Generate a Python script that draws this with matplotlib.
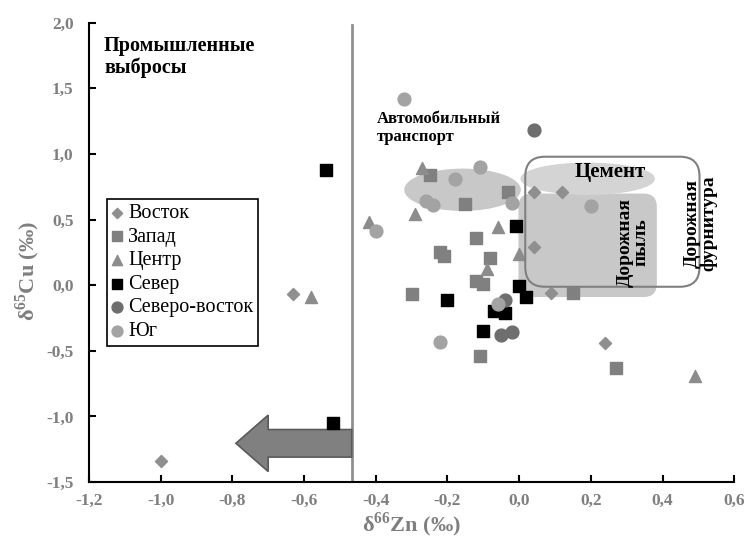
import matplotlib.pyplot as plt
from matplotlib.patches import Ellipse, FancyBboxPatch, Polygon
from matplotlib.ticker import FuncFormatter

plt.rcParams['font.family'] = ['Liberation Serif', 'DejaVu Serif']
plt.rcParams['mathtext.fontset'] = 'custom'
plt.rcParams['mathtext.bf'] = 'Liberation Serif:bold'
plt.rcParams['mathtext.rm'] = 'Liberation Serif:bold'

# данные: d66Zn, d65Cu
vostok_x = [-1.00, -0.63, 0.04, 0.12, 0.04, 0.09, 0.24]
vostok_y = [-1.34, -0.07, 0.71, 0.71, 0.29, -0.06, -0.44]

zapad_x = [-0.25, -0.03, -0.15, -0.12, -0.22, -0.21, -0.08, -0.12, -0.10, -0.30, -0.11, 0.15, 0.27]
zapad_y = [0.84, 0.71, 0.62, 0.36, 0.25, 0.22, 0.21, 0.03, 0.01, -0.07, -0.54, -0.06, -0.63]

centr_x = [-0.27, -0.29, -0.42, -0.06, -0.09, 0.00, -0.58, 0.49]
centr_y = [0.89, 0.54, 0.48, 0.44, 0.12, 0.24, -0.09, -0.69]

sever_x = [-0.54, -0.52, -0.01, 0.00, 0.02, -0.20, -0.07, -0.04, -0.10]
sever_y = [0.88, -1.05, 0.45, -0.01, -0.09, -0.11, -0.20, -0.21, -0.35]

sv_x = [0.04, -0.04, -0.05, -0.02]
sv_y = [1.18, -0.11, -0.38, -0.36]

yug_x = [-0.32, -0.11, -0.18, -0.26, -0.24, -0.02, 0.20, -0.40, -0.06, -0.22]
yug_y = [1.42, 0.90, 0.81, 0.64, 0.61, 0.63, 0.60, 0.41, -0.14, -0.43]

fig = plt.figure(figsize=(7.47, 5.41), dpi=100)
ax = fig.add_axes([0.119, 0.109, 0.864, 0.849])
asp = 2.73  # y-единиц на x-единицу при равных пикселях

# области источников
ax.add_patch(Ellipse((-0.158, 0.727), 0.321, 0.312, color='#c8c8c8', zorder=1))
ax.add_patch(FancyBboxPatch((0.0, -0.085), 0.382, 0.778,
                            boxstyle='round,pad=0,rounding_size=0.035',
                            mutation_aspect=asp,
                            color='#c8c8c8', zorder=1))
ax.add_patch(Ellipse((0.191, 0.811), 0.371, 0.236, color='#d4d4d4', zorder=1))

ax.scatter(vostok_x, vostok_y, marker='D', s=38, color='#8f8f8f', label='Восток', zorder=3)
ax.scatter(zapad_x, zapad_y, marker='s', s=70, color='#808080', label='Запад', zorder=3)
ax.scatter(centr_x, centr_y, marker='^', s=75, color='#8c8c8c', label='Центр', zorder=3)
ax.scatter(sever_x, sever_y, marker='s', s=70, color='black', label='Север', zorder=3)
ax.scatter(sv_x, sv_y, marker='o', s=85, color='#6e6e6e', label='Северо-восток', zorder=3)
ax.scatter(yug_x, yug_y, marker='o', s=85, color='#a3a3a3', label='Юг', zorder=3)

ax.add_patch(FancyBboxPatch((0.017, -0.012), 0.486, 0.991,
                            boxstyle='round,pad=0,rounding_size=0.055',
                            mutation_aspect=asp,
                            fill=False, edgecolor='#808080', linewidth=1.5, zorder=4))

# граница промышленных выбросов и стрелка
ax.plot([-0.467, -0.467], [-1.5, 1.98], color='#909090', linewidth=2, zorder=2)
arrow = [(-0.467, -1.10), (-0.70, -1.10), (-0.70, -0.99), (-0.79, -1.205),
         (-0.70, -1.42), (-0.70, -1.31), (-0.467, -1.31)]
ax.add_patch(Polygon(arrow, closed=True, facecolor='#808080', edgecolor='#5a5a5a',
                     linewidth=1.2, zorder=2))

ax.text(-1.158, 1.90, 'Промышленные\nвыбросы', fontsize=14.5, fontweight='bold',
        va='top', ha='left', linespacing=1.1)
ax.text(-0.397, 1.325, 'Автомобильный\nтранспорт', fontsize=12, fontweight='bold',
        va='top', ha='left', linespacing=1.15)
ax.text(0.255, 0.865, 'Цемент', fontsize=15, fontweight='bold', ha='center', va='center', zorder=5)
ax.text(0.318, 0.325, 'Дорожная\nпыль', fontsize=14, fontweight='bold', rotation=90,
        ha='center', va='center', linespacing=0.95, zorder=5)
ax.text(0.505, 0.47, 'Дорожная\nфурнитура', fontsize=14, fontweight='bold', rotation=90,
        ha='center', va='center', linespacing=0.95, zorder=5)

ax.set_xlim(-1.2, 0.6)
ax.set_ylim(-1.5, 2.0)
ax.set_xticks([-1.2, -1.0, -0.8, -0.6, -0.4, -0.2, 0.0, 0.2, 0.4, 0.6])
ax.set_yticks([-1.5, -1.0, -0.5, 0.0, 0.5, 1.0, 1.5, 2.0])
fmt = FuncFormatter(lambda v, p: ('%.1f' % v).replace('.', ',').replace('-0,0', '0,0'))
ax.xaxis.set_major_formatter(fmt)
ax.yaxis.set_major_formatter(fmt)
ax.tick_params(direction='in', length=5, width=1.5, labelsize=12.5, labelcolor='#7f7f7f')
ax.tick_params(axis='x', pad=8)
ax.tick_params(axis='y', pad=11)
for lab in ax.get_xticklabels() + ax.get_yticklabels():
    lab.set_fontweight('bold')
ax.spines['top'].set_visible(False)
ax.spines['right'].set_visible(False)
ax.spines['left'].set_linewidth(1.5)
ax.spines['bottom'].set_linewidth(1.5)

ax.set_xlabel(r'δ$^{\mathbf{66}}$Zn (‰)', fontsize=16, fontweight='bold', color='#7f7f7f', labelpad=1)
ax.set_ylabel(r'δ$^{\mathbf{65}}$Cu (‰)', fontsize=16, fontweight='bold', color='#7f7f7f')
ax.yaxis.set_label_coords(-0.073, 0.46)

leg = ax.legend(loc='upper left', bbox_to_anchor=(0.028, 0.616), borderaxespad=0,
                fontsize=14.5, fancybox=False, framealpha=1, edgecolor='black',
                handlelength=0.5, handletextpad=0.3, labelspacing=0.22, borderpad=0.25,
                markerscale=0.85)
leg.get_frame().set_linewidth(1.2)

plt.savefig('out.png', dpi=100)
